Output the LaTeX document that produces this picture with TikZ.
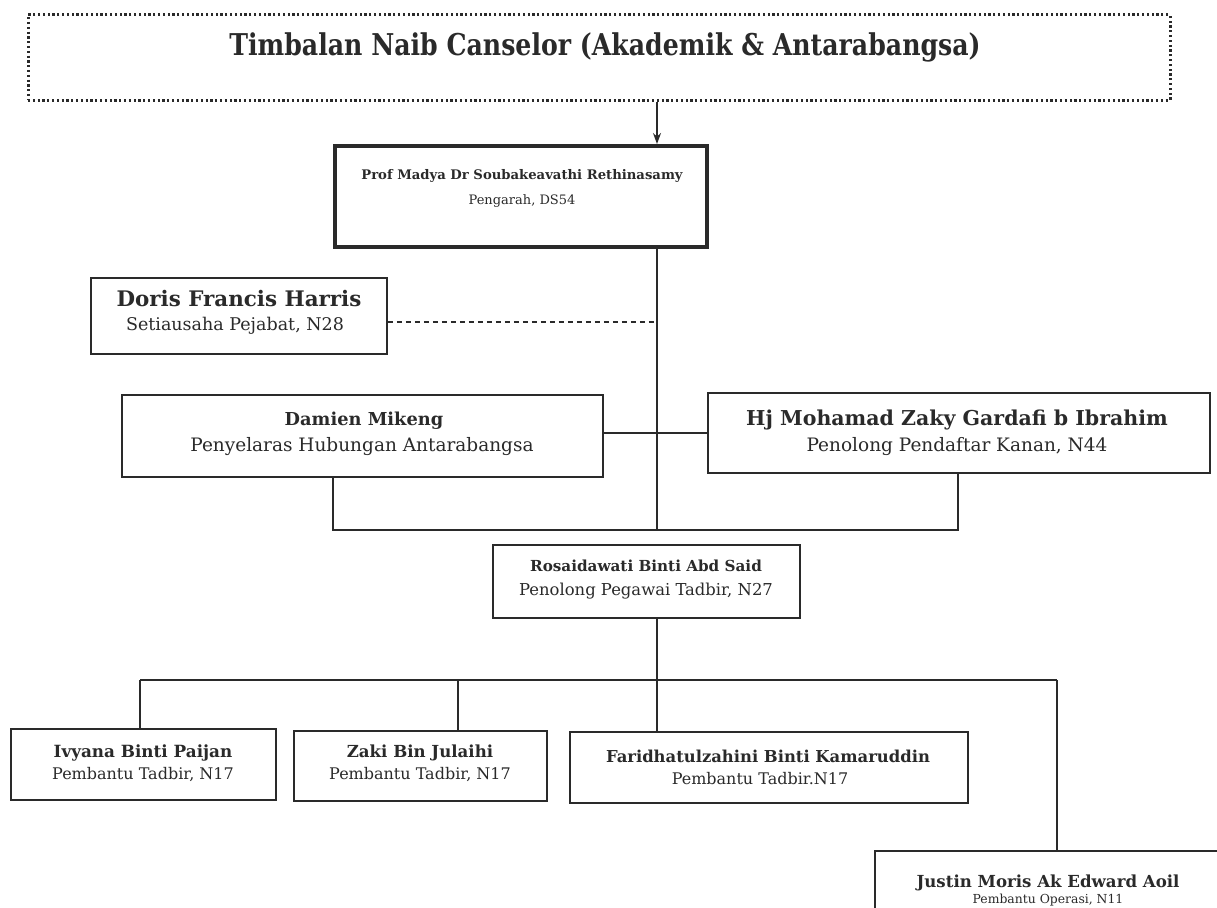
\documentclass[tikz,border=0pt]{standalone}
\usepackage{fontspec}
\setmainfont{DejaVu Serif}
\usetikzlibrary{arrows.meta}
\definecolor{ink}{HTML}{2A2A2A}
\tikzset{
  box/.style={draw=ink, line width=1.6pt, inner sep=0pt},
  link/.style={draw=ink, line width=1.4pt},
  nm/.style={inner sep=0pt, text=ink, font=\fontsize{#1}{#1}\selectfont\bfseries},
  sb/.style={inner sep=0pt, text=ink, font=\fontsize{#1}{#1}\selectfont}
}
\begin{document}
\begin{tikzpicture}[x=1pt,y=-1pt]
\useasboundingbox (0,0) rectangle (1217,907);
\clip (0,0) rectangle (1217,907);
\fill[white] (0,0) rectangle (1217,907);
% boxes
\node[draw=ink, line width=3pt, dash pattern=on 2.2pt off 2.6pt, minimum width=1142pt, minimum height=85pt, inner sep=0pt] (top) at (599,57.5) {};
\node[box, line width=4pt, minimum width=372pt, minimum height=101pt] (dir) at (521,196.5) {};
\node[box, minimum width=296pt, minimum height=76pt] (doris) at (239,316) {};
\node[box, minimum width=481pt, minimum height=82pt] (damien) at (362.5,436) {};
\node[box, minimum width=502pt, minimum height=80pt] (zaky) at (959,433) {};
\node[box, minimum width=307pt, minimum height=73pt] (rosa) at (646.5,581.5) {};
\node[box, minimum width=265pt, minimum height=71pt] (ivy) at (143.5,764.5) {};
\node[box, minimum width=253pt, minimum height=70pt] (zaki) at (420.5,766) {};
\node[box, minimum width=398pt, minimum height=71pt] (farid) at (769,767.5) {};
\node[box, minimum width=366pt, minimum height=80pt] (justin) at (1058,891) {};
% texts
\node[nm=30] (top-t) at (605,47) {\scalebox{0.84}[1]{Timbalan Naib Canselor (Akademik \& Antarabangsa)}};
\node[nm=13.2] (dir-n) at (522,176) {Prof Madya Dr Soubakeavathi Rethinasamy};
\node[sb=13] (dir-s) at (522,201) {Pengarah, DS54};
\node[nm=21.4] (doris-n) at (239,299) {Doris Francis Harris};
\node[sb=17.5] (doris-s) at (235,326) {Setiausaha Pejabat, N28};
\node[nm=17.8] (damien-n) at (364,421) {Damien Mikeng};
\node[sb=18.5] (damien-s) at (362,447) {Penyelaras Hubungan Antarabangsa};
\node[nm=20.5] (zaky-n) at (957,420) {Hj Mohamad Zaky Gardafi b Ibrahim};
\node[sb=18.5] (zaky-s) at (957,447) {Penolong Pendaftar Kanan, N44};
\node[nm=15.2] (rosa-n) at (646,566) {Rosaidawati Binti Abd Said};
\node[sb=16.4] (rosa-s) at (646,591) {Penolong Pegawai Tadbir, N27};
\node[nm=16.8] (ivy-n) at (143,753) {Ivyana Binti Paijan};
\node[sb=16] (ivy-s) at (143,775) {Pembantu Tadbir, N17};
\node[nm=16.6] (zaki-n) at (420,753) {Zaki Bin Julaihi};
\node[sb=16] (zaki-s) at (420,775) {Pembantu Tadbir, N17};
\node[nm=16.4] (farid-n) at (768,756) {Faridhatulzahini Binti Kamaruddin};
\node[sb=16] (farid-s) at (760,779) {Pembantu Tadbir.N17};
\node[nm=16.6] (justin-n) at (1048,883) {Justin Moris Ak Edward Aoil};
\node[sb=12.4] (justin-s) at (1048,900) {Pembantu Operasi, N11};
% junction coordinates
\coordinate (spine) at (657,0);
\coordinate (j1) at (657,530);
\coordinate (bl) at (333,530);
\coordinate (br) at (958,530);
\coordinate (bus) at (657,680);
\coordinate (busl) at (140,680);
\coordinate (busr) at (1057,680);
\coordinate (dz) at (458,680);
\coordinate (dash) at (0,322);
% connectors
\draw[link, -{Stealth[length=11pt,width=8pt]}] (top.south -| spine) -- (dir.north -| spine);
\draw[link] (dir.south -| spine) -- (j1);
\draw[link, dash pattern=on 5pt off 4pt] (doris.east |- dash) -- (spine |- dash);
\draw[link] (zaky.west -| damien.east) -- (zaky.west);
\draw[link] (damien.south -| bl) -- (bl) -- (br) -- (zaky.south -| br);
\draw[link] (rosa.south -| spine) -- (bus);
\draw[link] (busl) -- (busr);
\draw[link] (busl) -- (ivy.north -| busl);
\draw[link] (dz) -- (zaki.north -| dz);
\draw[link] (bus) -- (farid.north -| bus);
\draw[link] (busr) -- (justin.north -| busr);
\end{tikzpicture}
\end{document}
